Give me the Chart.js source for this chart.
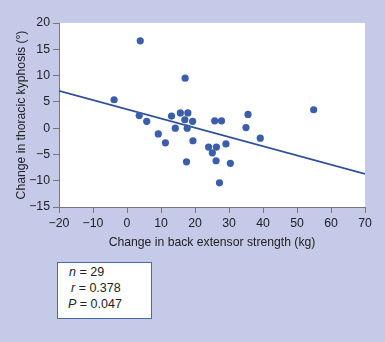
<!DOCTYPE html>
<html>
<head>
<meta charset="utf-8">
<script src="https://cdn.jsdelivr.net/npm/chart.js@4"></script>
<style>
  html,body{margin:0;padding:0;background:#c5cae8;}
  #wrap{position:relative;width:385px;height:342px;background:#c5cae8;}
  #c{position:absolute;left:0;top:0;}
  #stats{position:absolute;left:57px;top:262px;width:95px;height:57px;background:#fff;border:1px solid #4a68b0;box-sizing:border-box;
    font-family:"Liberation Sans",Arial,sans-serif;font-size:12.5px;color:#222;line-height:16px;padding-top:1px;}
  #stats div{white-space:nowrap;}
</style>
</head>
<body>
<div id="wrap">
<canvas id="c" width="385" height="250"></canvas>
<div id="stats">
  <div style="padding-left:11px"><i>n</i> = 29</div>
  <div style="padding-left:13px"><i>r</i> = 0.378</div>
  <div style="padding-left:10px"><i>P</i> = 0.047</div>
</div>
</div>
<script>
const strengthChange = [3.9,-3.8,3.6,5.8,9.2,11.3,13.1,14.2,15.7,17.1,17.0,17.9,17.7,17.5,19.3,19.4,24.0,25.1,25.8,26.3,26.2,27.8,27.2,29.1,30.4,35.0,35.6,39.2,54.9];
const kyphosisChange = [16.6,5.4,2.4,1.3,-1.1,-2.8,2.3,0.0,2.9,9.5,1.6,2.9,0.0,-6.4,1.3,-2.4,-3.6,-4.7,1.4,-3.6,-6.2,1.4,-10.4,-3.0,-6.7,0.1,2.6,-1.9,3.5];
const fitX = [-20,70];
const fitY = [7.1,-8.7];
const xTicks = [-20,-10,0,10,20,30,40,50,60,70];
const yTicks = [-15,-10,-5,0,5,10,15,20];

const fam = '"Liberation Sans", Arial, sans-serif';
const tickFont = {family:fam, size:12.3};
const titleFont = {family:fam, size:12.2};
const whiteArea = {
  id:'whiteArea',
  beforeDraw(chart){
    const {ctx, chartArea:a} = chart;
    ctx.save();
    ctx.fillStyle = '#ffffff';
    ctx.fillRect(a.left, a.top, a.right-a.left, a.bottom-a.top);
    ctx.restore();
  }
};
new Chart(document.getElementById('c'), {
  type:'scatter',
  data:{datasets:[
    {type:'line', data:fitX.map((x,i)=>({x, y:fitY[i]})), borderColor:'#2f4f9c', borderWidth:1.6, pointRadius:0, fill:false, order:2},
    {data:strengthChange.map((x,i)=>({x, y:kyphosisChange[i]})), backgroundColor:'#3a5dac', borderColor:'#3a5dac', pointRadius:3.6, borderWidth:0, order:1}
  ]},
  plugins:[whiteArea],
  options:{
    responsive:false, animation:false,
    layout:{padding:{left:14, right:20, top:23, bottom:0}},
    plugins:{legend:{display:false}, tooltip:{enabled:false}},
    scales:{
      x:{type:'linear', min:-20, max:70,
        afterBuildTicks(s){ s.ticks = xTicks.map(v=>({value:v})); },
        afterFit(s){ s.height = 43; },
        grid:{display:true, drawOnChartArea:false, drawTicks:true, tickLength:6, color:'#777', tickColor:'#777'},
        border:{color:'#777', width:1},
        ticks:{font:tickFont, color:'#222', padding:3, callback:v=>String(v).replace('-','\u2212'), maxRotation:0, autoSkip:false},
        title:{display:true, text:'Change in back extensor strength (kg)', font:titleFont, color:'#222', padding:{top:0,bottom:0}}
      },
      y:{type:'linear', min:-15, max:20,
        afterBuildTicks(s){ s.ticks = yTicks.map(v=>({value:v})); },
        afterFit(s){ s.width = 45; },
        grid:{display:true, drawOnChartArea:false, drawTicks:true, tickLength:6, color:'#777', tickColor:'#777'},
        border:{color:'#777', width:1},
        ticks:{font:tickFont, color:'#222', padding:3, callback:v=>String(v).replace('-','\u2212'), autoSkip:false},
        title:{display:true, text:'Change in thoracic kyphosis (°)', font:titleFont, color:'#222', padding:{top:0,bottom:0}}
      }
    }
  }
});
</script>
</body>
</html>
